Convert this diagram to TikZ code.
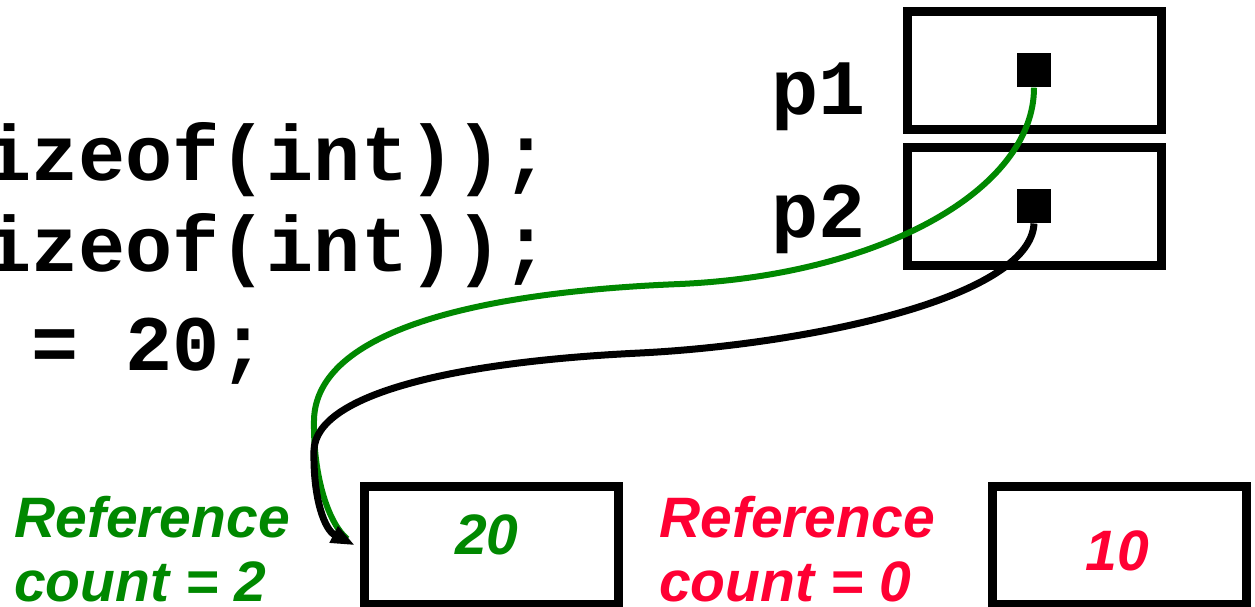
\documentclass[tikz,border=0pt]{standalone}
\usepackage{fontspec}
\setmainfont{Liberation Sans}
\newfontfamily\codefont{Liberation Mono}
\usetikzlibrary{arrows.meta}
\definecolor{refgreen}{RGB}{0,136,0}
\definecolor{refred}{RGB}{255,0,51}
\tikzset{
  cell/.style={draw, line width=9pt, minimum width=254pt, minimum height=118pt, inner sep=0pt},
  dot/.style={fill=black, minimum size=34pt, inner sep=0pt},
  code/.style={font=\codefont\bfseries\fontsize{78.5}{92}\selectfont, inner sep=0pt, anchor=base west},
  lbl/.style={font=\bfseries\itshape\fontsize{57}{64}\selectfont, inner sep=0pt, anchor=base west},
  val/.style={font=\bfseries\itshape\fontsize{57}{64}\selectfont, inner sep=0pt, anchor=base},
  ptr/.style={line width=7pt, -{Triangle[length=24pt,width=17pt]}},
}
\begin{document}
\begin{tikzpicture}[x=1pt,y=-1pt]
\useasboundingbox (0,0) rectangle (1255,607);
\clip (0,0) rectangle (1255,607);
\fill[white] (0,0) rectangle (1255,607);
% code
\node[code] (c1) at (-16,180) {izeof(int));};
\node[code] (c2) at (-16,271.7) {izeof(int));};
\node[code] (c3) at (31,370) {= 20;};
\node[code] (p1) at (771,115) {p1};
\node[code] (p2) at (771,237) {p2};
% pointer cells
\node[cell] (b1) at (1034,70.75) {};
\node[cell] (b2) at (1034,206.25) {};
\node[dot] (d1) at (1034,70.5) {};
\node[dot] (d2) at (1034,206.3) {};
% heap cells
\node[cell] (v20) at (491,545.3) {};
\node[cell] (v10) at (1119,545.3) {};
\node[val, text=refgreen] (t20) at (487,554) {20};
\node[val, text=refred] (t10) at (1117,570) {10};
% labels
\node[lbl, text=refgreen] (g1) at (14,537) {Reference};
\node[lbl, text=refgreen] (g2) at (14,601) {count = 2};
\node[lbl, text=refred] (r1) at (659,537) {Reference};
\node[lbl, text=refred] (r2) at (659,601) {count = 0};
% pointers
\draw[refgreen, line width=6pt, shorten >=10pt] (d1.south) .. controls (1034,190) and (880,275) .. (680,284) .. controls (480,292) and (316,330) .. (314,420) .. controls (313,480) and (330,525) .. ([xshift=-4.5pt]v20.west);
\draw[ptr] (d2.south) .. controls (1030,300) and (800,345) .. (640,353) .. controls (450,362) and (316,395) .. (314,450) .. controls (313,500) and (325,530) .. ([xshift=-4.5pt]v20.west);
\end{tikzpicture}
\end{document}
